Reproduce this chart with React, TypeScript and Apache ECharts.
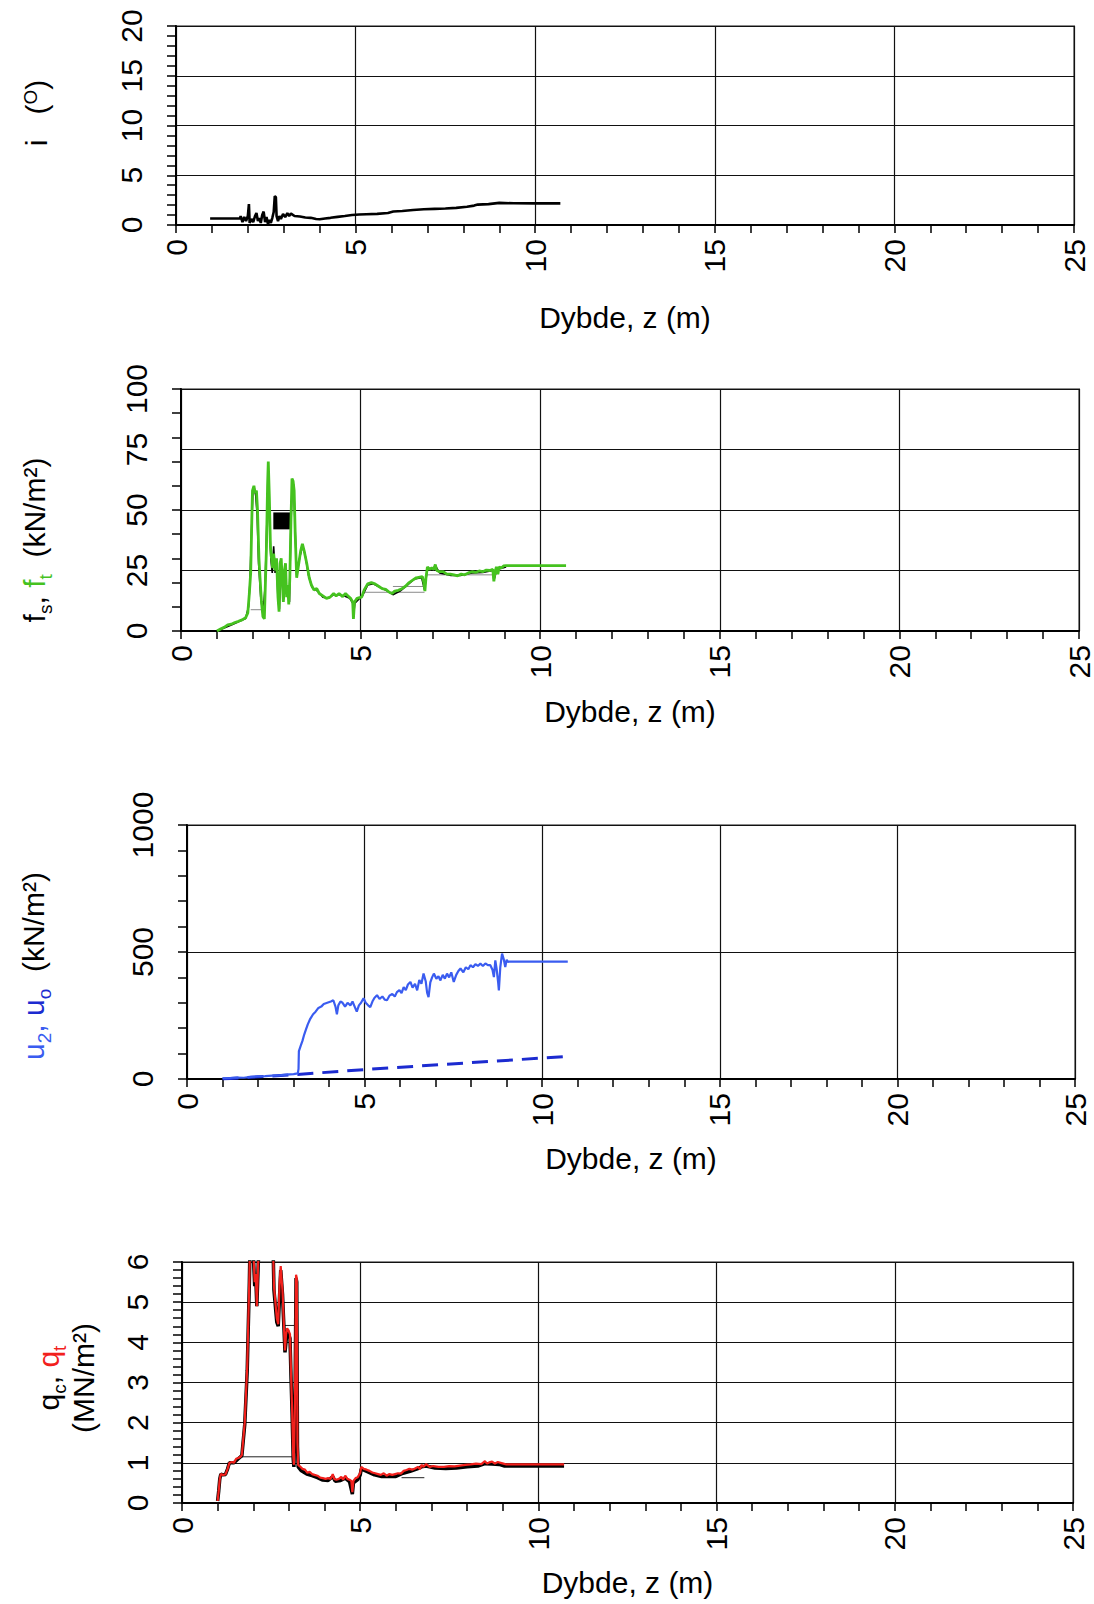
import React, { useEffect, useRef } from 'react';
import * as echarts from 'echarts';

// ---------- data (depth z in m, value) ----------
const inclination: [number, number][] = [
  [0.95, 0.65], [1.2, 0.65], [1.5, 0.65], [1.78, 0.65], [1.8, 0.9], [1.85, 0.3], [1.9, 0.8], [1.95, 0.4],
  [2.0, 0.9], [2.03, 2.1], [2.05, 0.2], [2.1, 0.6], [2.15, 0.3], [2.2, 0.9], [2.24, 1.2], [2.28, 0.4],
  [2.32, 0.7], [2.36, 0.2], [2.4, 1.0], [2.44, 1.35], [2.48, 0.3], [2.52, 0.8], [2.56, 0.1], [2.6, 0.5],
  [2.64, 0.2], [2.68, 0.7], [2.72, 1.3], [2.75, 2.9], [2.78, 2.8], [2.8, 0.9], [2.84, 0.4], [2.88, 0.9],
  [2.92, 0.6], [2.98, 1.1], [3.04, 0.8], [3.1, 1.2], [3.15, 0.9], [3.2, 1.15], [3.3, 0.9], [3.45, 0.85],
  [3.6, 0.75], [3.75, 0.72], [3.9, 0.6], [4.0, 0.57], [4.15, 0.65], [4.3, 0.72], [4.5, 0.82], [4.7, 0.9],
  [4.9, 1.0], [5.1, 1.05], [5.3, 1.08], [5.6, 1.12], [5.9, 1.2], [6.05, 1.35], [6.3, 1.4], [6.6, 1.5],
  [6.9, 1.58], [7.2, 1.62], [7.5, 1.66], [7.8, 1.72], [8.1, 1.83], [8.3, 1.95], [8.4, 2.05], [8.7, 2.1],
  [9.0, 2.22], [9.4, 2.18], [10.0, 2.17], [10.7, 2.17],
];

const sleeveFt: [number, number][] = [
  [1.0, 0], [1.1, 0.8], [1.2, 1.5], [1.3, 2.5], [1.4, 2.8], [1.5, 3.5], [1.6, 4.0], [1.7, 4.6], [1.8, 5.5],
  [1.86, 7.5], [1.9, 15], [1.94, 24], [1.97, 45], [1.99, 58], [2.03, 60], [2.06, 57], [2.1, 58], [2.13, 50],
  [2.17, 30], [2.2, 22], [2.24, 12], [2.28, 6], [2.32, 5], [2.35, 20], [2.38, 35], [2.41, 60], [2.43, 70],
  [2.46, 55], [2.49, 35], [2.52, 30], [2.55, 26], [2.58, 32], [2.62, 25], [2.66, 30], [2.7, 14], [2.73, 8],
  [2.76, 28], [2.79, 30], [2.82, 20], [2.85, 12], [2.88, 25], [2.91, 28], [2.94, 14], [2.97, 19], [3.0, 11],
  [3.03, 22], [3.06, 45], [3.09, 63], [3.12, 62], [3.15, 58], [3.18, 40], [3.22, 22], [3.27, 27], [3.33, 33],
  [3.38, 36], [3.43, 33], [3.5, 28], [3.57, 22], [3.63, 19], [3.7, 17], [3.78, 17.5], [3.85, 15.5],
  [3.95, 14.5], [4.05, 13.5], [4.15, 14], [4.25, 15.5], [4.32, 14.5], [4.4, 15.5], [4.5, 14.2], [4.58, 15.5],
  [4.65, 14.5], [4.72, 13.5], [4.78, 12], [4.8, 5], [4.83, 12], [4.9, 13.5], [4.97, 13.8], [5.03, 14],
  [5.1, 17], [5.2, 19.5], [5.3, 20], [5.4, 19.5], [5.5, 18.5], [5.6, 17.5], [5.7, 17.2], [5.8, 16],
  [5.88, 15.5], [5.95, 16.5], [6.05, 16.8], [6.15, 17.5], [6.25, 18.5], [6.35, 20], [6.45, 21], [6.55, 22],
  [6.65, 22.3], [6.72, 22.5], [6.76, 20], [6.79, 16.5], [6.82, 22], [6.86, 26.5], [6.92, 25.5], [6.98, 26],
  [7.04, 25.5], [7.08, 27.5], [7.12, 25], [7.2, 24.5], [7.3, 24.5], [7.4, 23.5], [7.5, 23.5], [7.6, 23.2],
  [7.7, 22.8], [7.8, 23.5], [7.9, 23.2], [8.0, 24], [8.1, 24.5], [8.2, 24.2], [8.3, 24.8], [8.4, 24.5],
  [8.5, 25.2], [8.6, 25], [8.68, 25.5], [8.71, 20.5], [8.74, 24], [8.78, 26.5], [8.82, 23.5], [8.86, 26.5],
  [8.92, 26], [8.98, 26.9], [9.05, 27], [10.72, 27],
];

const sleeveFs: [number, number][] = [
  [1.0, 0], [1.2, 1.2], [1.4, 2.5], [1.6, 3.8], [1.8, 5.2], [1.88, 10], [1.92, 20], [1.96, 40], [2.0, 57],
  [2.04, 59], [2.08, 56], [2.12, 48], [2.16, 28], [2.22, 14], [2.28, 7], [2.34, 18], [2.39, 45], [2.42, 55],
  [2.46, 48], [2.5, 30], [2.54, 24], [2.58, 35], [2.62, 24], [2.66, 29], [2.7, 13], [2.74, 9], [2.78, 29],
  [2.82, 19], [2.86, 13], [2.9, 27], [2.94, 15], [2.98, 18], [3.02, 12], [3.06, 44], [3.1, 62], [3.14, 60],
  [3.18, 41], [3.22, 23], [3.3, 30], [3.38, 35], [3.45, 32], [3.55, 23], [3.65, 18], [3.8, 16.5],
  [3.95, 14], [4.1, 13.5], [4.25, 15], [4.4, 15], [4.55, 14.5], [4.7, 13.5], [4.78, 11.5], [4.8, 6],
  [4.84, 11.5], [4.97, 13.5], [5.05, 14.5], [5.2, 19], [5.35, 19.5], [5.55, 18], [5.75, 16.5], [5.9, 15],
  [6.1, 16.5], [6.3, 19], [6.5, 21.5], [6.7, 22], [6.78, 17], [6.86, 26], [7.0, 25.5], [7.08, 27],
  [7.2, 24], [7.5, 23], [7.8, 23], [8.1, 24], [8.4, 24.2], [8.68, 25], [8.71, 21], [8.8, 25.5],
  [8.9, 25.8], [9.05, 26.5],
];

// thin grey connector lines in the sleeve friction plot: [from, to]
const sleeveLinks: [number, number][][] = [
  [[1.94, 8.8], [2.34, 8.8]],
  [[5.05, 16.0], [6.78, 16.0]],
  [[5.9, 18.4], [6.78, 18.4]],
  [[6.86, 23.2], [8.66, 23.2]],
];

// dense fs oscillation block: depth range and value range
const fsBlockDepth = [2.57, 3.05];
const fsBlockValue = [42, 49];

const poreU2: [number, number][] = [
  [1.0, 3], [1.2, 4], [1.4, 6], [1.6, 5], [1.8, 8], [2.0, 10], [2.2, 11], [2.4, 13], [2.6, 14], [2.8, 17],
  [3.0, 19], [3.12, 22], [3.14, 40], [3.15, 110], [3.2, 130], [3.25, 150], [3.3, 175], [3.35, 195],
  [3.4, 215], [3.47, 237], [3.55, 255], [3.62, 265], [3.7, 280], [3.78, 285], [3.85, 295], [3.95, 300],
  [4.05, 305], [4.12, 310], [4.18, 285], [4.22, 255], [4.26, 290], [4.32, 305], [4.38, 300], [4.45, 285],
  [4.52, 300], [4.6, 290], [4.66, 305], [4.72, 285], [4.78, 265], [4.84, 290], [4.9, 300], [4.97, 318],
  [5.03, 300], [5.1, 290], [5.16, 283], [5.22, 305], [5.28, 320], [5.35, 330], [5.42, 315], [5.5, 325],
  [5.57, 312], [5.63, 310], [5.7, 328], [5.78, 335], [5.85, 325], [5.91, 342], [5.98, 350], [6.04, 338],
  [6.1, 362], [6.16, 350], [6.22, 372], [6.29, 382], [6.35, 360], [6.42, 375], [6.48, 349], [6.54, 390],
  [6.6, 375], [6.66, 415], [6.72, 385], [6.76, 340], [6.8, 322], [6.85, 380], [6.9, 400], [6.95, 415],
  [7.02, 395], [7.08, 405], [7.13, 388], [7.2, 410], [7.26, 395], [7.32, 415], [7.38, 400], [7.44, 420],
  [7.51, 382], [7.58, 410], [7.64, 425], [7.7, 435], [7.78, 420], [7.85, 440], [7.92, 432], [7.98, 448],
  [8.05, 440], [8.12, 452], [8.19, 445], [8.26, 454], [8.33, 445], [8.4, 455], [8.47, 448], [8.54, 448],
  [8.6, 430], [8.64, 401], [8.68, 467], [8.72, 430], [8.76, 380], [8.78, 349], [8.82, 440], [8.87, 494],
  [8.92, 470], [8.96, 441], [9.0, 470], [9.03, 461], [9.06, 462], [10.72, 462],
];

const poreU0: [number, number][] = [[1.0, 0], [3.1, 18], [5.0, 37], [10.72, 89]];

const coneQt: [number, number][] = [
  [1.0, 0.05], [1.03, 0.3], [1.06, 0.6], [1.09, 0.72], [1.15, 0.7], [1.22, 0.71], [1.28, 0.85], [1.33, 1.0],
  [1.4, 1.02], [1.46, 1.0], [1.52, 1.1], [1.58, 1.12], [1.64, 1.15], [1.68, 1.2], [1.72, 1.6], [1.76, 2.0],
  [1.8, 2.8], [1.83, 3.4], [1.86, 4.5], [1.89, 5.6], [1.91, 6.5], [1.98, 6.8], [2.01, 6.1], [2.04, 5.5],
  [2.07, 5.7], [2.1, 4.9], [2.13, 5.8], [2.16, 6.5], [2.55, 6.6], [2.58, 5.4], [2.62, 5.0], [2.66, 4.6],
  [2.7, 4.45], [2.74, 5.5], [2.77, 5.9], [2.8, 5.5], [2.82, 5.3], [2.86, 4.4], [2.89, 3.8], [2.92, 4.2],
  [2.95, 4.35], [2.99, 4.3], [3.03, 4.2], [3.06, 3.2], [3.09, 2.3], [3.12, 1.2], [3.14, 0.95], [3.17, 2.5],
  [3.2, 5.68], [3.22, 5.6], [3.24, 1.5], [3.26, 0.95], [3.3, 0.92], [3.38, 0.85], [3.45, 0.83], [3.52, 0.75],
  [3.58, 0.78], [3.65, 0.72], [3.72, 0.7], [3.8, 0.68], [3.88, 0.63], [3.95, 0.62], [4.03, 0.6], [4.1, 0.62],
  [4.17, 0.6], [4.23, 0.72], [4.27, 0.6], [4.33, 0.58], [4.4, 0.6], [4.47, 0.65], [4.52, 0.58], [4.58, 0.68],
  [4.64, 0.6], [4.7, 0.58], [4.75, 0.55], [4.78, 0.27], [4.81, 0.55], [4.87, 0.62], [4.93, 0.64], [5.0, 0.75],
  [5.03, 0.9], [5.1, 0.85], [5.18, 0.83], [5.26, 0.8], [5.34, 0.76], [5.42, 0.74], [5.5, 0.72], [5.58, 0.7],
  [5.66, 0.74], [5.74, 0.68], [5.82, 0.72], [5.9, 0.7], [5.98, 0.72], [6.06, 0.74], [6.14, 0.73], [6.22, 0.8],
  [6.3, 0.82], [6.38, 0.85], [6.46, 0.83], [6.54, 0.86], [6.62, 0.9], [6.68, 0.84], [6.72, 0.95], [6.78, 0.9],
  [6.85, 0.97], [6.95, 0.9], [7.05, 0.92], [7.2, 0.9], [7.35, 0.9], [7.5, 0.92], [7.65, 0.91], [7.8, 0.93],
  [7.95, 0.95], [8.1, 0.96], [8.25, 0.98], [8.4, 0.97], [8.5, 1.04], [8.56, 0.98], [8.62, 1.01], [8.7, 1.03],
  [8.78, 0.98], [8.86, 1.02], [8.94, 1.0], [9.02, 0.98], [9.1, 0.96], [10.72, 0.96],
];

const coneQc: [number, number][] = [
  [1.0, 0.05], [1.03, 0.3], [1.06, 0.6], [1.09, 0.72], [1.15, 0.7], [1.22, 0.71], [1.28, 0.85], [1.33, 1.0],
  [1.46, 1.0], [1.58, 1.1], [1.68, 1.18], [1.76, 1.95], [1.83, 3.3], [1.89, 5.5], [1.91, 6.5], [1.98, 6.8],
  [2.01, 6.0], [2.04, 5.4], [2.07, 5.6], [2.1, 4.9], [2.13, 5.7], [2.16, 6.5], [2.55, 6.6], [2.58, 5.3],
  [2.66, 4.5], [2.7, 4.4], [2.77, 5.8], [2.82, 5.2], [2.89, 3.75], [2.95, 4.3], [3.03, 4.1], [3.06, 3.1],
  [3.09, 2.2], [3.12, 1.1], [3.14, 0.9], [3.17, 2.4], [3.2, 5.6], [3.22, 5.5], [3.24, 1.4], [3.26, 0.9],
  [3.35, 0.8], [3.5, 0.72], [3.65, 0.68], [3.8, 0.63], [3.95, 0.57], [4.1, 0.56], [4.23, 0.66], [4.3, 0.54],
  [4.45, 0.56], [4.58, 0.62], [4.7, 0.53], [4.78, 0.22], [4.81, 0.5], [4.93, 0.58], [5.0, 0.7], [5.03, 0.85],
  [5.2, 0.78], [5.4, 0.7], [5.6, 0.66], [5.8, 0.66], [6.0, 0.66], [6.2, 0.74], [6.4, 0.79], [6.6, 0.85],
  [6.72, 0.9], [6.85, 0.92], [7.1, 0.87], [7.4, 0.86], [7.7, 0.87], [8.0, 0.9], [8.3, 0.92], [8.5, 0.98],
  [8.7, 0.97], [8.9, 0.96], [9.05, 0.92], [10.72, 0.92],
];

// thin black connector lines in the cone resistance plot
const coneLinks: [number, number][][] = [
  [[1.68, 1.15], [3.1, 1.15]],
  [[2.83, 4.42], [3.16, 4.42]],
  [[6.16, 0.63], [6.8, 0.63]],
];

// ---------- styling ----------
const FONT = 'Liberation Sans, Arial, Helvetica, sans-serif';
const FS = 30;

function xAxisFor(gridIndex: number, nameGap: number) {
  return {
    type: 'value',
    gridIndex,
    min: 0,
    max: 25,
    interval: 5,
    name: 'Dybde, z (m)',
    nameLocation: 'middle',
    nameGap,
    nameTextStyle: { fontSize: FS, color: '#000', fontFamily: FONT },
    axisLine: { show: true, onZero: false, lineStyle: { color: '#000', width: 2 } },
    axisTick: { show: true, length: 8, lineStyle: { color: '#000', width: 1.5 } },
    minorTick: { show: true, splitNumber: 5, length: 8, lineStyle: { color: '#000', width: 1.5 } },
    axisLabel: { rotate: 90, margin: 14, fontSize: FS, color: '#000', fontFamily: FONT },
    splitLine: { show: true, lineStyle: { color: '#111', width: 1.2 } },
  };
}

function yAxisFor(gridIndex: number, max: number, interval: number, minorSplit: number, showTicks = true) {
  return {
    type: 'value',
    gridIndex,
    position: 'left',
    min: 0,
    max,
    interval,
    axisLine: { show: true, lineStyle: { color: '#000', width: 2 } },
    axisTick: { show: showTicks, length: 9, lineStyle: { color: '#000', width: 1.5 } },
    minorTick: { show: minorSplit > 0, splitNumber: minorSplit || 5, length: 9, lineStyle: { color: '#000', width: 1.5 } },
    axisLabel: {
      rotate: 90,
      margin: 30,
      fontSize: FS,
      color: '#000',
      fontFamily: FONT,
      formatter: (v: number) => String(v),
    },
    splitLine: { show: true, lineStyle: { color: '#111', width: 1.2 } },
  };
}

// tick-only companion axis (ticks every 10 kN/m² on the sleeve friction plot)
function tickOnlyAxis(gridIndex: number, max: number, interval: number) {
  return {
    type: 'value',
    gridIndex,
    position: 'left',
    min: 0,
    max,
    interval,
    axisLine: { show: false },
    axisTick: { show: true, length: 9, lineStyle: { color: '#000', width: 1.5 } },
    axisLabel: { show: false },
    splitLine: { show: false },
  };
}

const mainTok = (fill: string) => ({ fill, fontSize: FS, fontFamily: FONT, verticalAlign: 'top' });
const subTok = (fill: string) => ({ fill, fontSize: 19, fontFamily: FONT, padding: [16, 0, 0, 0], verticalAlign: 'bottom' });

function yName(x: number, y: number, text: string, rich: Record<string, any>) {
  return {
    type: 'text',
    x,
    y,
    rotation: Math.PI / 2,
    style: {
      text,
      rich,
      fontSize: FS,
      fontFamily: FONT,
      fill: '#000',
      align: 'center',
      verticalAlign: 'middle',
    },
  };
}

const GREEN = '#45c21f';
const RED = '#f2201c';
const BLUE2 = '#3a5cf0';
const BLUE0 = '#1c2bd0';

export default function App() {
  const ref = useRef<HTMLDivElement>(null);

  useEffect(() => {
    if (!ref.current) return;
    const chart = echarts.init(ref.current, undefined, { renderer: 'svg' });

    const grids = [
      { left: 176, top: 26, width: 898, height: 199 },
      { left: 181, top: 389, width: 899, height: 242 },
      { left: 187, top: 825, width: 888, height: 254 },
      { left: 182, top: 1262, width: 891, height: 241 },
    ].map((g) => ({ ...g, show: true, borderColor: '#8c8c8c', borderWidth: 2, backgroundColor: 'transparent' }));

    const line = (xi: number, data: any, color: string, width: number, extra: any = {}) => ({
      type: 'line',
      xAxisIndex: xi,
      yAxisIndex: xi,
      data,
      showSymbol: false,
      symbol: 'none',
      clip: true,
      silent: true,
      lineStyle: { color, width },
      ...extra,
    });

    const option: any = {
      animation: false,
      backgroundColor: '#fff',
      grid: grids,
      xAxis: [xAxisFor(0, 77), xAxisFor(1, 65), xAxisFor(2, 64), xAxisFor(3, 64)],
      yAxis: [
        yAxisFor(0, 20, 5, 5),
        yAxisFor(1, 100, 25, 0, false),
        yAxisFor(2, 1000, 500, 5),
        yAxisFor(3, 6, 1, 5),
        tickOnlyAxis(1, 100, 10),
      ],
      series: [
        line(0, inclination, '#000', 2.6),
        ...sleeveLinks.map((seg) => line(1, seg, '#8a8a8a', 1)),
        line(1, sleeveFs, '#000', 1.6, {
          markArea: {
            silent: true,
            itemStyle: { color: '#000' },
            data: [[{ coord: [fsBlockDepth[0], fsBlockValue[0]] }, { coord: [fsBlockDepth[1], fsBlockValue[1]] }]],
          },
        }),
        line(1, sleeveFt, GREEN, 2.8),
        line(2, poreU0, BLUE0, 3, { lineStyle: { color: BLUE0, width: 3, type: [16, 9] } }),
        line(2, poreU2, BLUE2, 2.2),
        ...coneLinks.map((seg) => line(3, seg, '#222', 1)),
        line(3, coneQc, '#000', 3.5),
        line(3, coneQt, RED, 2.2),
      ],
      graphic: [
        yName(36, 113, '{m|i   (}{sup|O}{m|)}', {
          m: { fill: '#000', fontSize: FS, fontFamily: FONT, verticalAlign: 'bottom' },
          sup: { fill: '#000', fontSize: 19, fontFamily: FONT, verticalAlign: 'top' },
        }),
        yName(37, 540, '{m|f}{ms|s}{m|, }{g|f}{gs|t}{m|  (kN/m²)}', {
          m: mainTok('#000'),
          ms: subTok('#000'),
          g: mainTok(GREEN),
          gs: subTok(GREEN),
        }),
        yName(36, 966, '{l|u}{ls|2}{l|, }{d|u}{ds|o}{m|  (kN/m²)}', {
          l: mainTok(BLUE2),
          ls: subTok(BLUE2),
          d: mainTok(BLUE0),
          ds: subTok(BLUE0),
          m: mainTok('#000'),
        }),
        yName(66, 1378, '{m|q}{ms|c}{m|, }{r|q}{rs|t}\n{n|(MN/m²)}', {
          m: mainTok('#000'),
          ms: subTok('#000'),
          r: mainTok(RED),
          rs: subTok(RED),
          n: { fill: '#000', fontSize: FS, fontFamily: FONT },
        }),
      ],
    };

    chart.setOption(option);
    return () => chart.dispose();
  }, []);

  return (
    <div
      ref={ref}
      style={{ position: 'absolute', left: 0, top: 0, width: 1094, height: 1604 }}
    />
  );
}
